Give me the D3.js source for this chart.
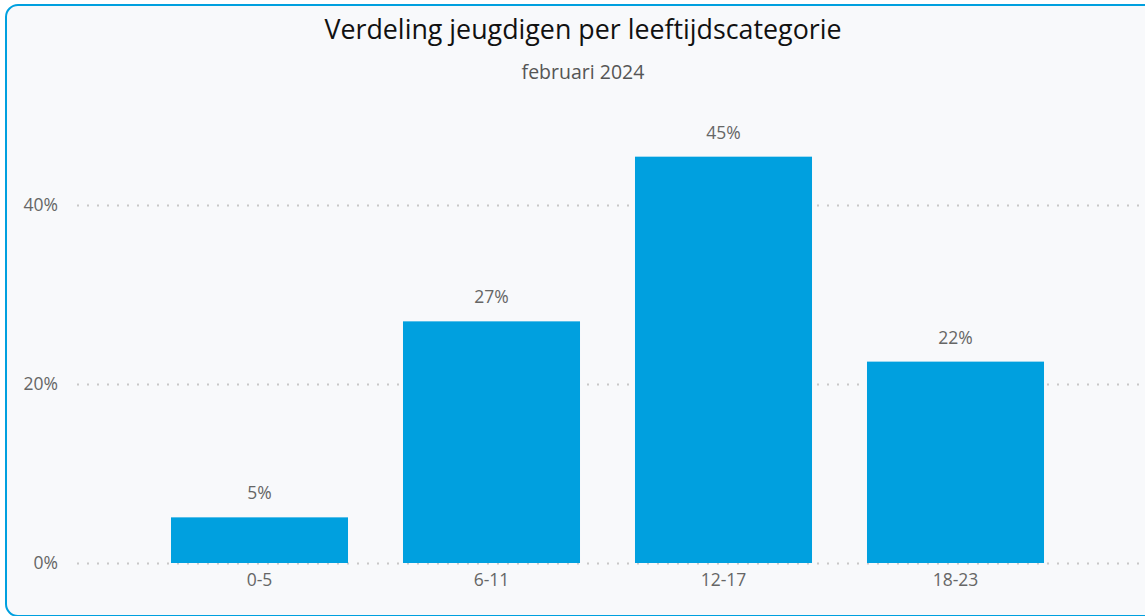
<!DOCTYPE html>
<html>
<head>
<meta charset="utf-8">
<title>Verdeling jeugdigen per leeftijdscategorie</title>
<script src="https://d3js.org/d3.v7.min.js"></script>
<style>
html, body { margin: 0; padding: 0; background: #fff; overflow: hidden; }
text { font-family: "Open Sans", "Noto Sans", sans-serif; }
.title { fill: #111; }
.subtitle { fill: #555; }
.tick text { fill: #666; }
.label { fill: #666; }
</style>
</head>
<body>
<script>
// data
var categories = ["0-5", "6-11", "12-17", "18-23"];
var values = [5.1, 27.0, 45.4, 22.5];
var labels = ["5%", "27%", "45%", "22%"];
var yTicks = [0, 20, 40];

var width = 1145, height = 616;

var svg = d3.select("body").append("svg")
    .attr("width", width)
    .attr("height", height);

// card
svg.append("rect")
    .attr("x", 6).attr("y", 5)
    .attr("width", 1160).attr("height", 611)
    .attr("rx", 12).attr("ry", 12)
    .attr("fill", "#f8f9fb")
    .attr("stroke", "#00a0df")
    .attr("stroke-width", 2);

var x = d3.scaleBand()
    .domain(categories)
    .range([143.5, 1071.5])
    .paddingInner(0.237)
    .paddingOuter(0.1185);

var y = d3.scaleLinear()
    .domain([0, 40])
    .range([563, 205]);

// grid
svg.append("g")
    .selectAll("line")
    .data(yTicks)
    .enter().append("line")
    .attr("x1", 77).attr("x2", 1145)
    .attr("y1", function(d) { return y(d) + 0.5; })
    .attr("y2", function(d) { return y(d) + 0.5; })
    .attr("stroke", "#c8c8c8")
    .attr("stroke-width", 2)
    .attr("stroke-dasharray", "2,8");

// y axis labels
var yAxis = d3.axisLeft(y)
    .tickValues(yTicks)
    .tickSize(0)
    .tickPadding(0)
    .tickFormat(function(d) { return d + "%"; });
var gy = svg.append("g")
    .attr("transform", "translate(58,0)")
    .call(yAxis);
gy.select(".domain").remove();
gy.selectAll("text").attr("font-size", 17.5).attr("font-family", "Open Sans, sans-serif");

// bars
svg.append("g")
    .selectAll("rect")
    .data(values)
    .enter().append("rect")
    .attr("x", function(d, i) { return x(categories[i]); })
    .attr("y", function(d) { return y(d); })
    .attr("width", x.bandwidth())
    .attr("height", function(d) { return y(0) - y(d); })
    .attr("fill", "#00a0df");

// value labels
svg.append("g")
    .selectAll("text")
    .data(values)
    .enter().append("text")
    .attr("class", "label")
    .attr("x", function(d, i) { return x(categories[i]) + x.bandwidth() / 2; })
    .attr("y", function(d) { return y(d) - 18; })
    .attr("text-anchor", "middle")
    .attr("font-size", 17.5)
    .text(function(d, i) { return labels[i]; });

// x axis labels
var xAxis = d3.axisBottom(x).tickSize(0).tickPadding(0);
var gx = svg.append("g")
    .attr("transform", "translate(0,574)")
    .call(xAxis);
gx.select(".domain").remove();
gx.selectAll("text").attr("font-size", 17.5).attr("font-family", "Open Sans, sans-serif");

// titles
svg.append("text")
    .attr("class", "title")
    .attr("x", 583).attr("y", 39)
    .attr("text-anchor", "middle")
    .attr("font-size", 26.8)
    .text("Verdeling jeugdigen per leeftijdscategorie");

svg.append("text")
    .attr("class", "subtitle")
    .attr("x", 583).attr("y", 79)
    .attr("text-anchor", "middle")
    .attr("font-size", 19.5)
    .text("februari 2024");
</script>
</body>
</html>
